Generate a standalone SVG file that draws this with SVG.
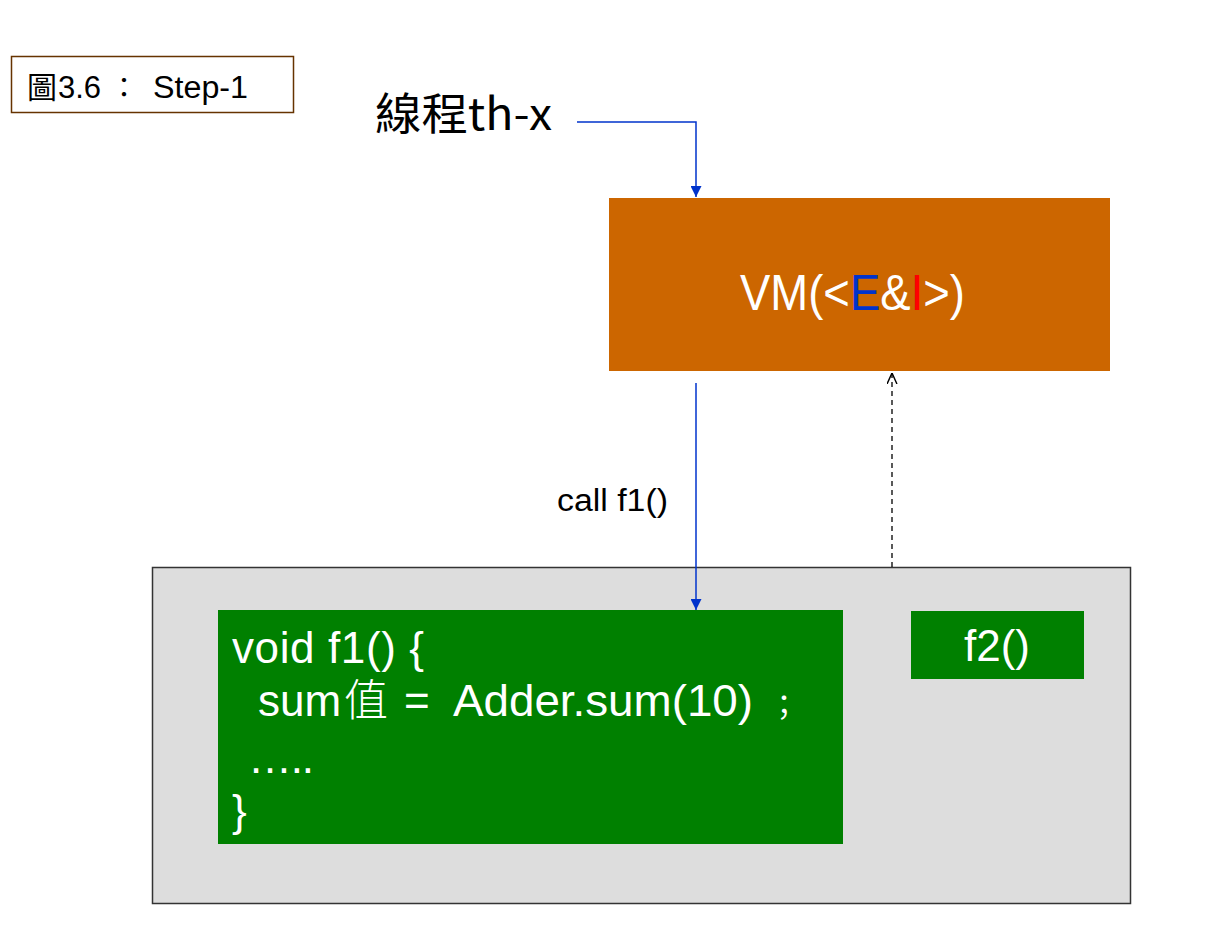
<svg xmlns="http://www.w3.org/2000/svg" width="1210" height="930" viewBox="0 0 1210 930">
<style>
.sans{font-family:"Liberation Sans",Arial,"Noto Sans CJK TC",sans-serif}
.cjk{font-family:"Noto Sans CJK TC","Noto Sans CJK SC",sans-serif}
.w{fill:#ffffff}
.blue{stroke:#0033CC;stroke-width:1.5;fill:none}
</style>
<defs>
<marker id="ab" viewBox="0 0 10 10" refX="10" refY="5" markerWidth="11" markerHeight="11" markerUnits="userSpaceOnUse" orient="auto">
<path d="M0,0 L10,5 L0,10 z" fill="#0033CC"/>
</marker>
<marker id="ao" viewBox="0 0 10 10" refX="10" refY="5" markerWidth="11" markerHeight="11" markerUnits="userSpaceOnUse" orient="auto">
<path d="M0,0.5 L10,5 L0,9.5" fill="none" stroke="#000" stroke-width="1.3"/>
</marker>
</defs>
<rect width="1210" height="930" fill="#ffffff"/>
<g id="title">
<rect x="11.5" y="56.5" width="282" height="56" fill="#ffffff" stroke="#663300" stroke-width="1.5"/>
<text y="98" font-size="31" class="sans" fill="#000"><tspan x="27" class="cjk" font-size="30">圖</tspan><tspan x="58">3.6</tspan><tspan x="110" class="cjk" font-size="28">：</tspan><tspan x="153" textLength="95" lengthAdjust="spacingAndGlyphs">Step-1</tspan></text>
</g>
<g id="thread">
<text x="375" y="130" font-size="44" class="cjk" fill="#000" textLength="177" lengthAdjust="spacingAndGlyphs">線程th-x</text>
</g>
<g id="vm">
<rect x="609" y="198" width="501" height="173" fill="#CC6600"/>
<text x="740" y="310" font-size="50" class="sans w" textLength="225" lengthAdjust="spacingAndGlyphs">VM(&lt;<tspan fill="#0033CC">E</tspan>&amp;<tspan fill="#FF0000">I</tspan>&gt;)</text>
</g>
<g id="container">
<rect x="152.5" y="567.5" width="978" height="336" fill="#DDDDDD" stroke="#333333" stroke-width="1.5"/>
</g>
<g id="f1">
<rect x="218" y="610" width="625" height="234" fill="#008000"/>
<text class="sans w" font-size="44">
<tspan x="232" y="663" textLength="192" lengthAdjust="spacing">void f1() {</tspan>
<tspan x="258" y="716">sum</tspan><tspan class="cjk" font-weight="300" x="344" y="716">值</tspan><tspan x="404" y="716">=</tspan><tspan x="453" y="716" textLength="300" lengthAdjust="spacingAndGlyphs">Adder.sum(10)</tspan><tspan class="cjk" font-size="30" x="769" y="716">；</tspan>
<tspan x="248" y="773" textLength="66" lengthAdjust="spacing">…..</tspan>
<tspan x="232" y="826">}</tspan>
</text>
</g>
<g id="f2">
<rect x="911" y="611" width="173" height="68" fill="#008000"/>
<text x="997" y="661" font-size="44" class="sans w" text-anchor="middle">f2()</text>
</g>
<g id="connectors">
<path class="blue" d="M577,122 H696 V197" marker-end="url(#ab)"/>
<path class="blue" d="M696,383 V610" marker-end="url(#ab)"/>
<path d="M892,567 V373" fill="none" stroke="#000" stroke-width="1.3" stroke-dasharray="5,4" marker-end="url(#ao)"/>
<text x="557" y="511" font-size="31" class="sans" fill="#000" textLength="111" lengthAdjust="spacingAndGlyphs">call f1()</text>
</g>
</svg>
